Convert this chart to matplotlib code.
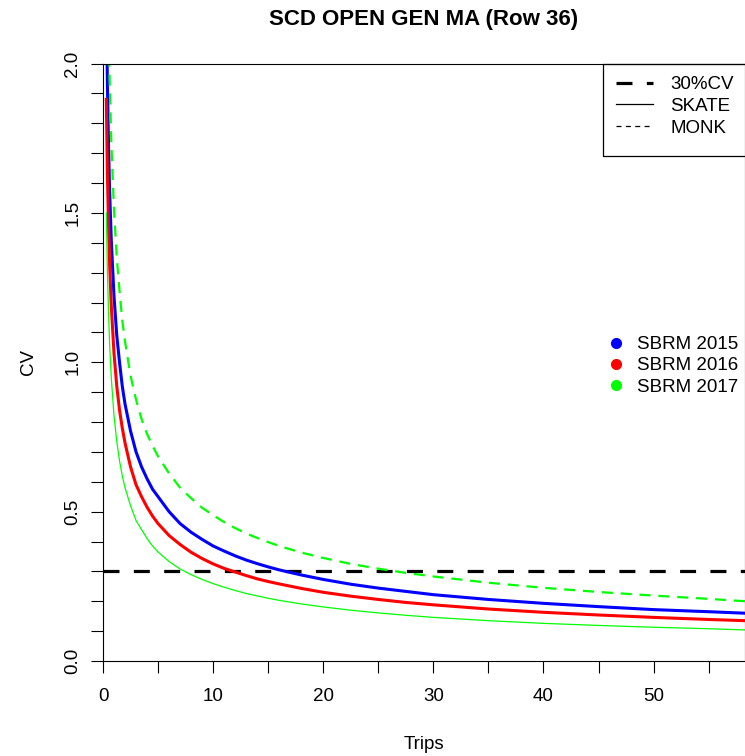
import numpy as np
import matplotlib.pyplot as plt
from matplotlib.lines import Line2D
from matplotlib.patches import Rectangle

plt.rcParams['font.family'] = ['Liberation Sans', 'DejaVu Sans']

# values
trips = [0.3, 0.4, 0.5, 0.6, 0.75, 1, 1.25, 1.5, 1.75, 2, 2.5, 3, 3.5, 4, 4.5, 5, 6, 7, 8, 9, 10,
         11, 12, 13, 14, 15, 16, 18, 20, 22.5, 25, 27.5, 30, 35, 40, 45, 50, 55, 58.3]
skate_2015 = [2.23, 1.93, 1.73, 1.575, 1.41, 1.22, 1.09, 1.00, 0.92, 0.86, 0.77, 0.70, 0.65, 0.61,
              0.575, 0.55, 0.50, 0.46, 0.431, 0.407, 0.385, 0.368, 0.352, 0.338, 0.326, 0.315, 0.305,
              0.288, 0.273, 0.257, 0.244, 0.233, 0.222, 0.206, 0.193, 0.182, 0.172, 0.165, 0.16]
skate_2016 = [1.88, 1.63, 1.46, 1.33, 1.19, 1.03, 0.92, 0.84, 0.78, 0.73, 0.65, 0.59, 0.55, 0.515,
              0.485, 0.46, 0.42, 0.39, 0.364, 0.343, 0.325, 0.31, 0.298, 0.286, 0.275, 0.266, 0.258,
              0.243, 0.23, 0.217, 0.206, 0.196, 0.188, 0.174, 0.163, 0.154, 0.146, 0.139, 0.135]
skate_2017 = [1.50, 1.30, 1.17, 1.06, 0.95, 0.82, 0.735, 0.67, 0.62, 0.58, 0.52, 0.47, 0.44, 0.41,
              0.385, 0.365, 0.333, 0.308, 0.289, 0.273, 0.259, 0.247, 0.236, 0.226, 0.218, 0.21, 0.203,
              0.191, 0.181, 0.17, 0.161, 0.153, 0.146, 0.135, 0.126, 0.119, 0.113, 0.108, 0.104]
monk_2017 = [2.76, 2.39, 2.14, 1.95, 1.74, 1.51, 1.35, 1.24, 1.14, 1.07, 0.955, 0.875, 0.81, 0.76,
             0.72, 0.685, 0.628, 0.58, 0.545, 0.513, 0.488, 0.465, 0.445, 0.427, 0.412, 0.398, 0.385,
             0.363, 0.345, 0.325, 0.309, 0.295, 0.283, 0.262, 0.245, 0.231, 0.219, 0.208, 0.2]
cv_target = 0.3

fig = plt.figure(figsize=(7.45, 7.56), dpi=100)
ax = fig.add_axes([103 / 745, 1 - 661 / 756, 1 - 103 / 745, (661 - 63.5) / 756])

ax.axhline(cv_target, color='black', lw=2.3, dashes=(5, 4.5))
ax.plot(trips, skate_2015, color='#0000ff', lw=2.2)
ax.plot(trips, skate_2016, color='#ff0000', lw=2.2)
ax.plot(trips, skate_2017, color='#00ff00', lw=0.9)
ax.plot(trips, monk_2017, color='#00ff00', lw=1.6, dashes=(5, 3.5))

ax.set_xlim(0, 58.3)
ax.set_ylim(0, 2.0)

xt = np.arange(0, 60, 5)
ax.set_xticks(xt)
ax.set_xticklabels([str(int(v)) if v % 10 == 0 else '' for v in xt])
yt = np.round(np.arange(0, 2.01, 0.1), 1)
ax.set_yticks(yt)
ax.set_yticklabels([f'{v:.1f}' if round(v * 10) % 5 == 0 else '' for v in yt],
                   rotation=90, va='center')
ax.tick_params(axis='both', direction='out', length=8.5, width=0.8, labelsize=13.5)
ax.tick_params(axis='x', pad=11)
ax.tick_params(axis='y', pad=7)
for s in ax.spines.values():
    s.set_linewidth(0.8)

ax.set_xlabel('Trips', fontsize=13.5, labelpad=22)
ax.set_ylabel('CV', fontsize=13.5, labelpad=20)
fig.text(424 / 745, 1 - 20 / 756, 'SCD OPEN GEN MA (Row 36)', ha='center', va='center',
         fontsize=16, fontweight='bold')

# line-type legend
handles1 = [Line2D([], [], color='black', lw=2.3, dashes=(5, 4.5)),
            Line2D([], [], color='black', lw=0.9),
            Line2D([], [], color='black', lw=0.9, dashes=(4, 3.5))]
leg1 = ax.legend(handles1, ['30%CV', 'SKATE', 'MONK'], loc='upper left',
                 bbox_to_anchor=(616 / 745, 1 - 76 / 756), bbox_transform=fig.transFigure,
                 frameon=False, fontsize=13.5, handlelength=1.95, handletextpad=0.95,
                 labelspacing=0.25, borderaxespad=0, borderpad=0)
ax.add_artist(leg1)
fig.patches.append(Rectangle((603 / 745, 1 - 156 / 756), 0.3, (156 - 64) / 756,
                             transform=fig.transFigure, fill=False, ec='black', lw=0.9))

# year legend
handles2 = [Line2D([], [], color=c, marker='o', ls='none', markersize=7)
            for c in ['#0000ff', '#ff0000', '#00ff00']]
ax.legend(handles2, ['SBRM 2015', 'SBRM 2016', 'SBRM 2017'], loc='upper left',
          bbox_to_anchor=(607 / 745, 1 - 336 / 756), bbox_transform=fig.transFigure,
          frameon=False, fontsize=13.5, handlelength=1.0, handletextpad=0.6,
          labelspacing=0.22, borderaxespad=0, borderpad=0)

fig.savefig('out.png', dpi=100)
